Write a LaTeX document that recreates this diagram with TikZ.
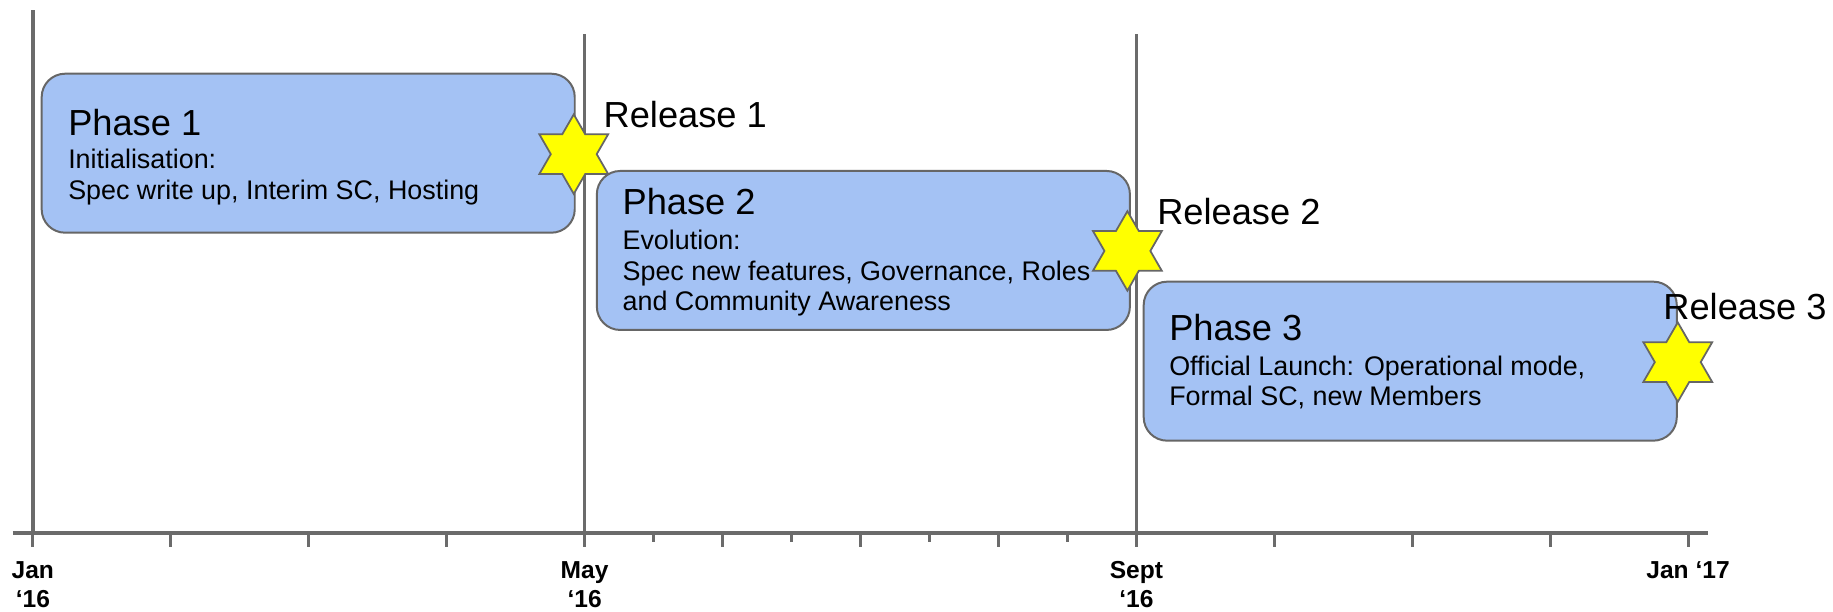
\documentclass[tikz,border=0pt]{standalone}
\usepackage{fontspec}
\setmainfont{Liberation Sans}
\usetikzlibrary{shapes.geometric,calc}
\definecolor{linegray}{HTML}{6B6B6B}
\definecolor{boxblue}{HTML}{A4C2F4}
\definecolor{boxedge}{HTML}{666666}
\definecolor{staryellow}{HTML}{FFFF00}
\begin{document}
\begin{tikzpicture}[x=1pt,y=-1pt,
  axisline/.style={draw=linegray,line width=3pt},
  vline/.style={draw=linegray,line width=3pt},
  longtick/.style={draw=linegray,line width=2.6pt},
  phasebox/.style={draw=boxedge,fill=boxblue,line width=1.7pt,rounded corners=20pt,
    minimum width=456pt,minimum height=136pt,anchor=north west,inner sep=0pt},
  releasestar/.style={shape=star,star points=6,star point ratio=1.732,minimum size=68pt,
    inner sep=0pt,draw=boxedge,fill=staryellow,line width=1.5pt},
  headtxt/.style={anchor=base west,inner sep=0pt,font=\fontsize{31}{31}\selectfont},
  subtxt/.style={anchor=base west,inner sep=0pt,font=\fontsize{23}{26.3}\selectfont},
  reltxt/.style={anchor=base west,inner sep=0pt,font=\fontsize{31}{31}\selectfont},
  datetxt/.style={anchor=base,inner sep=0pt,font=\bfseries\fontsize{21}{25}\selectfont}]
\useasboundingbox (0,0) rectangle (1568,523);
\fill[white] (0,0) rectangle (1568,523);

% axis
\coordinate (ax0) at (11,456);
\coordinate (ax1) at (1461,456);
\draw[axisline] (ax0) -- (ax1);

% vertical month lines
\coordinate (jantop) at (28.1,8.6);
\coordinate (janbot) at (28.1,456);
\coordinate (maytop) at (500.1,29.3);
\coordinate (maybot) at (500.1,456);
\coordinate (septop) at (972.1,29.3);
\coordinate (sepbot) at (972.1,456);
\draw[vline] (jantop) -- (janbot);
\draw[vline] (maytop) -- (maybot);
\draw[vline] (septop) -- (sepbot);

% ticks
\foreach \m in {0,...,12} {
  \draw[longtick] (28.1+118*\m,456) -- (28.1+118*\m,467.6);
}
\foreach \m in {4.5,5.5,6.5,7.5} {
  \draw[longtick] (28.1+118*\m,456) -- (28.1+118*\m,463.4);
}

% date labels
\node[datetxt] (djan) at (28.1,495) {\vtop{\halign{\hfil#\hfil\cr Jan\cr ‘16\cr}}};
\node[datetxt] (dmay) at (500.1,495) {\vtop{\halign{\hfil#\hfil\cr May\cr ‘16\cr}}};
\node[datetxt] (dsep) at (972.1,495) {\vtop{\halign{\hfil#\hfil\cr Sept\cr ‘16\cr}}};
\node[datetxt] (djan17) at (1444,495) {Jan ‘17};

% phase boxes
\node[phasebox] (b1) at (34.8,62.2) {};
\node[phasebox] (b2) at (509.7,145.4) {};
\node[phasebox] (b3) at (977.5,240.1) {};

% texts in boxes
\node[headtxt] (h1) at ($(b1.north west)+(23.4,53.3)$) {Phase 1};
\node[subtxt] (s1) at ($(h1.base west)+(0,28.6)$) {\vtop{\hbox{Initialisation:}\hbox{Spec write up, Interim SC, Hosting}}};
\node[headtxt] (h2) at ($(b2.north west)+(22.7,38.5)$) {Phase 2};
\node[subtxt] (s2) at ($(h2.base west)+(0,29.4)$) {\vtop{\hbox{Evolution:}\hbox{Spec new features, Governance, Roles}\hbox{and Community Awareness}}};
\node[headtxt] (h3) at ($(b3.north west)+(22.5,51.3)$) {Phase 3};
\node[subtxt] (s3) at ($(h3.base west)+(0,29.4)$) {\vtop{\hbox{Official Launch: Operational mode,}\hbox{Formal SC, new Members}}};

% release stars
\node[releasestar] (r1) at ($(b1.east)+(-1.7,0.8)$) {};
\node[releasestar] (r2) at ($(b2.east)+(-3,0.4)$) {};
\node[releasestar] (r3) at ($(b3.east)+(0,0.8)$) {};

\node[reltxt] (l1) at ($(r1.center)+(25.4,-22.6)$) {Release 1};
\node[reltxt] (l2) at ($(r2.center)+(25.4,-22.6)$) {Release 2};
\node[reltxt] (l3) at ($(r3.center)+(-12.5,-36.7)$) {Release 3};
\end{tikzpicture}
\end{document}
